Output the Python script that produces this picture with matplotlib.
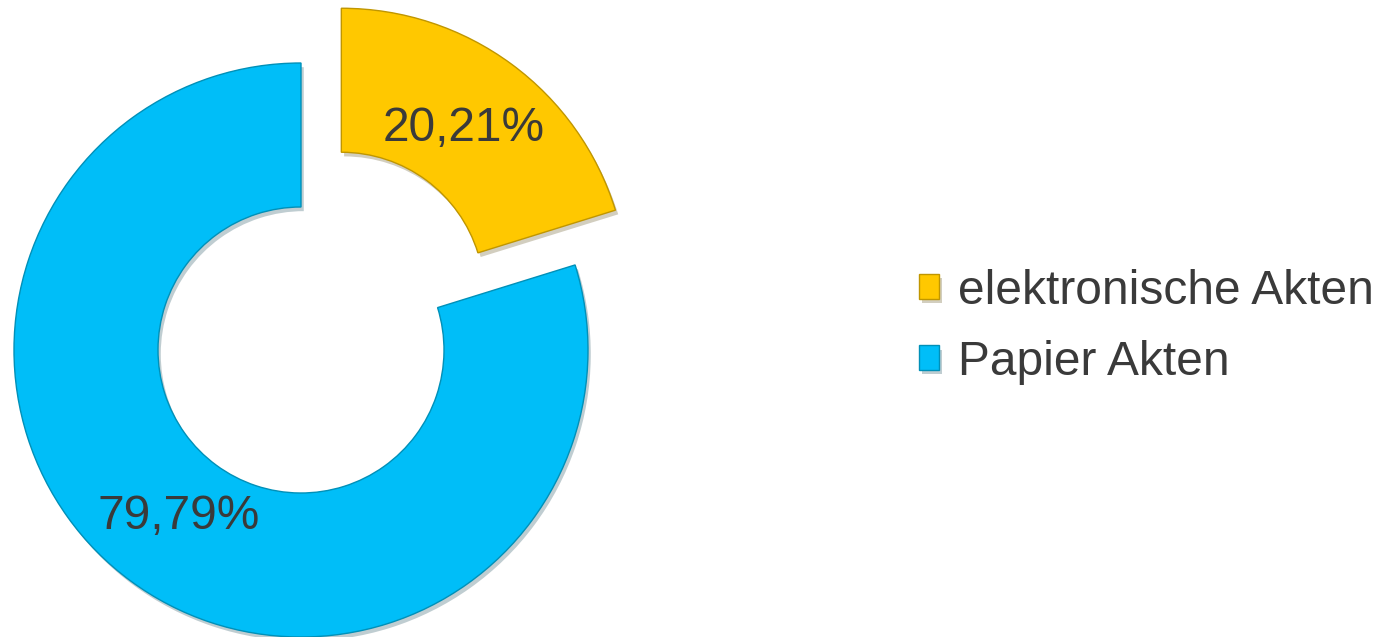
import matplotlib.pyplot as plt
import matplotlib.patheffects as pe

# data
labels = ['elektronische Akten', 'Papier Akten']
values = [20.21, 79.79]
colors = ['#FFC800', '#00BEF8']
edges = ['#C09600', '#0090B8']
explode = [68, 0]   # pixel offset of the yellow slice

plt.rcParams['font.family'] = ['Liberation Sans', 'DejaVu Sans']

fig = plt.figure(figsize=(13.95, 6.37), dpi=100)
ax = fig.add_axes([0, 0, 1, 1])

R = 287
wedges, texts, autotexts = ax.pie(
    values, colors=colors, startangle=90, counterclock=False,
    center=(301, 287), radius=R, explode=explode,
    wedgeprops=dict(width=144, linewidth=1.0),
    autopct=lambda p: f'{p:.2f}%'.replace('.', ','), pctdistance=0.72,
    textprops=dict(fontsize=34.5, color='#3a3a3a'))

for w, ec in zip(wedges, edges):
    w.set_edgecolor(ec)
    w.set_path_effects([pe.SimplePatchShadow(offset=(2, -3), alpha=0.25), pe.Normal()])

ax.set_xlim(0, 1395)
ax.set_ylim(0, 637)
ax.set_aspect('equal')
ax.axis('off')

leg = fig.legend(wedges, labels, loc='center left', bbox_to_anchor=(0.659, 0.487),
                 frameon=False, fontsize=34.5, handlelength=0.42, handleheight=0.42,
                 handletextpad=0.38, labelspacing=0.55, borderpad=0, borderaxespad=0)
for t in leg.get_texts():
    t.set_color('#3a3a3a')

fig.savefig('out.png', dpi=100)
